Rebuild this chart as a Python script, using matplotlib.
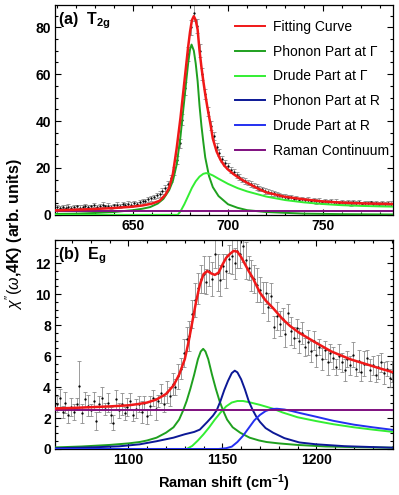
import numpy as np
import matplotlib
matplotlib.use("Agg")
import matplotlib.pyplot as plt
from matplotlib.ticker import MultipleLocator
from matplotlib.lines import Line2D

plt.rcParams["font.family"] = ["Liberation Sans", "DejaVu Sans"]
plt.rcParams["mathtext.fontset"] = "custom"
plt.rcParams["mathtext.rm"] = "Liberation Sans"
plt.rcParams["mathtext.it"] = "Liberation Sans:italic"
plt.rcParams["mathtext.bf"] = "Liberation Sans:bold"

# ---------------- (a) T2g ----------------
t2g_x = np.arange(610, 786, 1.5)
t2g_y = [3.3, 2.9, 3.5, 3.1, 3.4, 2.8, 3.2, 3.6, 3.0, 3.4,
         3.9, 3.3, 3.6, 4.2, 3.5, 3.8, 4.3, 3.6, 3.9, 3.4,
         4.0, 4.4, 3.9, 4.6, 4.2, 4.8, 4.4, 5.0, 4.7, 5.4,
         5.9, 5.8, 6.6, 7.0, 7.6, 8.3, 9.0, 10.2, 11.4, 13.2,
         15.6, 18.7, 23.5, 30.5, 40.5, 54.0, 68.5, 80.0, 86.0, 80.5,
         70.0, 60.0, 51.5, 44.0, 38.0, 33.5, 29.0, 26.5, 24.0, 22.0,
         20.8, 19.2, 18.4, 16.9, 16.2, 15.0, 14.6, 13.7, 13.2, 12.4,
         12.0, 11.2, 10.9, 10.2, 9.9, 9.3, 9.1, 8.5, 8.4, 7.9,
         7.8, 7.3, 7.4, 6.9, 7.0, 6.5, 6.7, 6.2, 6.5, 6.0,
         6.2, 5.7, 6.1, 5.6, 5.9, 5.4, 5.8, 5.3, 5.6, 5.2,
         5.6, 5.1, 5.4, 5.0, 5.5, 4.9, 5.3, 4.8, 5.2, 4.9,
         5.3, 4.7, 5.1, 4.8, 5.2, 4.6, 5.0, 4.8]
t2g_err = [0.8, 1.0, 0.7, 0.9, 1.1, 0.8, 0.9, 0.7, 1.0, 0.8,
           0.9, 1.1, 0.8, 1.0, 0.7, 0.9, 1.1, 0.8, 1.0, 0.9,
           0.8, 1.1, 0.9, 1.0, 0.8, 1.1, 0.9, 1.0, 0.8, 1.1,
           0.9, 1.1, 1.0, 1.2, 1.0, 1.1, 1.3, 1.2, 1.4, 1.3,
           1.5, 1.6, 1.8, 2.0, 2.4, 2.7, 3.0, 3.2, 3.3, 3.1,
           2.8, 2.5, 2.3, 2.0, 1.8, 1.7, 1.5, 1.4, 1.3, 1.3,
           1.2, 1.4, 1.1, 1.3, 1.2, 1.0, 1.3, 1.1, 1.2, 1.0,
           1.2, 1.1, 0.9, 1.2, 1.0, 1.1, 0.9, 1.2, 1.0, 1.1,
           0.9, 1.0, 1.2, 0.9, 1.0, 0.8, 1.1, 0.9, 1.0, 0.8,
           1.1, 0.9, 1.0, 0.8, 1.0, 0.9, 1.1, 0.8, 1.0, 0.9,
           0.8, 1.0, 0.9, 1.1, 0.8, 0.9, 1.0, 0.8, 0.9, 1.1,
           0.8, 0.9, 1.0, 0.8, 0.9, 1.0, 0.8, 0.9]

t2g_fit_x = [609, 620, 630, 640, 650, 655, 660, 664, 667, 669, 671, 673, 675, 677, 679, 680,
             681, 682, 683, 684, 685, 686, 687, 688, 689, 690, 691, 692, 694, 696, 698, 700,
             703, 706, 710, 715, 720, 730, 740, 750, 760, 770, 787]
t2g_fit_y = [1.9, 2.2, 2.5, 2.9, 3.5, 4.0, 4.8, 6.0, 8.5, 11.5, 17.5, 28.5, 41.5, 56.5, 71.5, 78.0,
             83.0, 84.7, 83.0, 79.0, 70.0, 63.0, 57.0, 51.5, 46.5, 42.0, 37.5, 32.5, 27.0, 23.5, 21.0, 19.3,
             17.3, 15.6, 13.7, 11.5, 9.6, 7.7, 6.6, 5.7, 5.2, 4.9, 4.6]

t2g_ph_x = [609, 620, 630, 640, 650, 655, 659, 663, 666, 669, 671, 673, 675, 676, 677, 678, 679, 680,
            680.8, 682, 683, 684, 685, 686, 687, 688, 690, 692, 695, 700, 705, 710, 720, 740, 760, 787]
t2g_ph_y = [0.4, 0.5, 0.8, 1.2, 2.0, 2.6, 3.3, 4.8, 6.8, 10.5, 14.5, 21.5, 33.5, 41.5, 49.0, 57.0, 64.5, 70.5,
            72.6, 70.0, 64.5, 57.0, 46.5, 38.0, 31.0, 24.5, 16.5, 11.8, 8.0, 4.5, 3.0, 2.0, 1.2, 0.5, 0.3, 0.15]

t2g_dr_x = [609, 673.5, 675, 677, 679, 681, 683, 685, 687, 688.5, 690, 692, 695, 700, 705, 710,
            720, 730, 740, 750, 760, 770, 780, 787]
t2g_dr_y = [0.0, 0.0, 1.5, 4.5, 8.0, 11.5, 14.3, 16.3, 17.5, 17.8, 17.5, 16.8, 15.4, 13.2, 11.4, 10.0,
            7.8, 6.3, 5.3, 4.6, 4.1, 3.8, 3.6, 3.5]

t2g_cont = 1.8

# ---------------- (b) Eg ----------------
eg_x = np.arange(1062, 1241, 1.5)
eg_y = [2.9, 3.3, 2.4, 3.0, 2.2, 2.7, 2.4, 2.9, 4.1, 2.3,
        3.2, 2.8, 2.5, 3.1, 1.8, 2.9, 3.3, 2.6, 3.0, 2.2,
        1.7, 3.2, 2.5, 2.9, 2.3, 2.7, 3.1, 2.2, 2.6, 2.9,
        2.4, 3.0, 2.1, 2.8, 3.3, 2.6, 3.1, 3.6, 2.9, 3.7,
        3.4, 4.2, 4.0, 4.7, 5.2, 6.2, 7.1, 7.3, 8.7, 9.6,
        10.4, 11.0, 11.3, 10.8, 11.5, 11.0, 12.6, 11.4, 10.9, 11.8,
        11.5, 12.3, 12.5, 12.0, 12.8, 12.6, 13.1, 12.2, 11.7, 11.2,
        11.0, 10.6, 10.3, 9.8, 10.1, 9.2, 9.9, 7.9, 8.6, 8.1,
        8.4, 7.4, 8.8, 7.6, 7.2, 7.8, 7.0, 7.5, 6.6, 6.9,
        6.3, 7.0, 6.1, 6.6, 5.8, 6.4, 5.6, 6.2, 5.9, 5.3,
        6.0, 5.6, 5.1, 5.8, 5.4, 6.1, 5.2, 5.7, 5.0, 5.5,
        5.9, 5.1, 5.4, 4.8, 5.3, 5.6, 4.9, 5.2, 4.6, 5.0]
eg_err = [0.5, 0.6, 0.4, 0.7, 0.5, 0.6, 0.5, 0.4, 1.6, 0.6,
          0.5, 0.7, 0.4, 0.6, 0.6, 0.5, 0.7, 0.4, 0.6, 0.5,
          0.5, 0.6, 0.5, 0.7, 0.4, 0.6, 0.5, 0.4, 0.6, 0.5,
          0.7, 0.4, 0.5, 0.6, 0.5, 0.7, 0.4, 0.6, 0.5, 0.7,
          0.6, 0.7, 0.5, 0.8, 0.7, 0.9, 0.8, 1.0, 0.9, 1.1,
          1.0, 0.9, 1.2, 0.8, 1.0, 1.1, 0.9, 1.2, 1.0, 0.8,
          1.1, 0.9, 1.2, 1.0, 1.1, 0.9, 1.0, 1.2, 0.8, 1.0,
          0.9, 1.1, 0.8, 1.0, 0.7, 0.9, 0.8, 0.7, 0.9, 0.8,
          0.7, 0.8, 0.6, 0.9, 0.7, 0.6, 0.8, 0.7, 0.6, 0.8,
          0.7, 0.6, 0.8, 0.5, 0.7, 0.6, 0.8, 0.6, 0.7, 0.5,
          0.8, 0.6, 0.7, 0.5, 0.6, 0.8, 0.5, 0.7, 0.6, 0.8,
          0.5, 0.7, 0.6, 0.5, 0.8, 0.6, 0.7, 0.5, 0.6, 0.7]

eg_fit_x = [1061, 1070, 1080, 1090, 1100, 1105, 1110, 1115, 1120, 1124, 1127, 1130, 1132, 1134, 1136,
            1138, 1140, 1142, 1144, 1146, 1148, 1150, 1152, 1154, 1156, 1158, 1160, 1162, 1164, 1166,
            1168, 1170, 1173, 1177, 1182, 1186, 1191, 1200, 1208, 1218, 1226, 1234, 1241]
eg_fit_y = [2.62, 2.65, 2.7, 2.75, 2.82, 2.9, 3.0, 3.2, 3.55, 4.1, 4.8, 5.8, 6.9, 8.2, 9.5,
            10.6, 11.3, 11.5, 11.35, 11.25, 11.4, 11.9, 12.35, 12.6, 12.8, 12.75, 12.4, 11.95, 11.5, 11.1,
            10.6, 10.1, 9.6, 9.1, 8.4, 7.95, 7.5, 6.85, 6.3, 5.8, 5.5, 5.2, 4.95]

eg_phG_x = [1061, 1075, 1090, 1100, 1106, 1110, 1115, 1120, 1124, 1127, 1129, 1131, 1133, 1135, 1137,
            1138.5, 1139.8, 1141, 1142.5, 1144.5, 1146.5, 1148.5, 1150.5, 1152.5, 1155.5, 1159.5,
            1164.5, 1169.5, 1173.5, 1180, 1190, 1205, 1220, 1241]
eg_phG_y = [0.1, 0.16, 0.26, 0.36, 0.45, 0.55, 0.73, 1.05, 1.4, 1.9, 2.45, 3.1, 3.9, 4.8, 5.8,
            6.3, 6.47, 6.3, 5.8, 4.8, 3.9, 3.1, 2.45, 1.9, 1.4, 1.05,
            0.73, 0.55, 0.45, 0.36, 0.26, 0.16, 0.12, 0.08]

eg_drG_x = [1061, 1131, 1134, 1137, 1140, 1143, 1146, 1149, 1152, 1155, 1158, 1161, 1165, 1170,
            1177, 1182, 1190, 1200, 1209, 1220, 1230, 1241]
eg_drG_y = [0.0, 0.0, 0.2, 0.55, 0.95, 1.4, 1.9, 2.35, 2.75, 3.0, 3.1, 3.1, 3.0, 2.85,
            2.6, 2.36, 2.05, 1.8, 1.6, 1.4, 1.25, 1.1]

eg_phR_x = [1061, 1080, 1095, 1106, 1115, 1124, 1130, 1135, 1138, 1142, 1145, 1147, 1149, 1151,
            1153, 1155, 1156.6, 1158, 1160, 1162, 1164, 1166, 1168, 1170, 1173, 1177, 1183, 1191,
            1200, 1215, 1241]
eg_phR_y = [0.05, 0.1, 0.17, 0.3, 0.5, 0.73, 0.95, 1.1, 1.25, 1.75, 2.15, 2.5, 3.1, 3.8,
            4.4, 4.9, 5.06, 4.95, 4.5, 3.85, 3.1, 2.55, 2.1, 1.75, 1.35, 1.05, 0.7, 0.42,
            0.3, 0.18, 0.08]

eg_drR_x = [1061, 1148, 1152, 1155, 1158, 1161, 1164, 1167, 1170, 1173, 1176, 1179, 1183, 1187,
            1191, 1200, 1209, 1220, 1230, 1241]
eg_drR_y = [0.0, 0.0, 0.05, 0.15, 0.45, 0.85, 1.35, 1.85, 2.2, 2.45, 2.58, 2.6, 2.55, 2.45,
            2.33, 2.08, 1.82, 1.57, 1.4, 1.23]

eg_cont = 2.5

legend_labels = ["Fitting Curve", "Phonon Part at \u0393", "Drude Part at \u0393",
                 "Phonon Part at R", "Drude Part at R", "Raman Continuum"]

c_fit = "#f01818"
c_phG = "#1fa01f"
c_drG = "#33ee33"
c_phR = "#0c1896"
c_drR = "#2430f0"
c_cont = "#7f0f7f"


def style_axis(ax, xmaj, xmin, ymaj, ymin):
    ax.xaxis.set_major_locator(MultipleLocator(xmaj))
    ax.xaxis.set_minor_locator(MultipleLocator(xmin))
    ax.yaxis.set_major_locator(MultipleLocator(ymaj))
    ax.yaxis.set_minor_locator(MultipleLocator(ymin))
    ax.tick_params(which="both", direction="in", top=True, right=True, width=0.8)
    ax.tick_params(which="major", length=4, labelsize=10, pad=3)
    ax.tick_params(which="minor", length=2)
    for lab in ax.get_xticklabels() + ax.get_yticklabels():
        lab.set_fontweight("bold")
    for sp in ax.spines.values():
        sp.set_linewidth(0.9)


def draw_data(ax, x, y, err):
    ax.errorbar(x, y, yerr=err, fmt=".", color="black", ms=1.3,
                ecolor="#8c8c8c", elinewidth=0.6, capsize=1.3, capthick=0.6, zorder=2)


fig = plt.figure(figsize=(3.99, 4.95), dpi=100)
ax1 = fig.add_axes([0.138, 0.566, 0.848, 0.424])
ax2 = fig.add_axes([0.138, 0.093, 0.848, 0.422])

# 上图
draw_data(ax1, t2g_x, t2g_y, t2g_err)
ax1.plot(t2g_ph_x, t2g_ph_y, color=c_phG, lw=1.4, zorder=3)
ax1.plot(t2g_dr_x, t2g_dr_y, color=c_drG, lw=1.4, zorder=3)
ax1.axhline(t2g_cont, color=c_cont, lw=1.4, zorder=3)
ax1.plot(t2g_fit_x, t2g_fit_y, color=c_fit, lw=1.8, zorder=4)
ax1.set_xlim(609, 787)
ax1.set_ylim(0, 89.5)
style_axis(ax1, 50, 10, 20, 5)
ax1.text(0.01, 0.975, r"(a)  T$_{\mathbf{2g}}$", transform=ax1.transAxes,
         fontsize=11.5, fontweight="bold", va="top", ha="left")

handles = [Line2D([], [], color=c, lw=1.4) for c in [c_fit, c_phG, c_drG, c_phR, c_drR, c_cont]]
ax1.legend(handles, legend_labels, loc="upper right", bbox_to_anchor=(1.016, 0.976),
           frameon=False, fontsize=10, handlelength=2.1, handletextpad=0.6,
           labelspacing=0.78, borderaxespad=0.3)

# 下图
draw_data(ax2, eg_x, eg_y, eg_err)
ax2.plot(eg_phG_x, eg_phG_y, color=c_phG, lw=1.4, zorder=3)
ax2.plot(eg_drG_x, eg_drG_y, color=c_drG, lw=1.4, zorder=3)
ax2.plot(eg_phR_x, eg_phR_y, color=c_phR, lw=1.4, zorder=3)
ax2.plot(eg_drR_x, eg_drR_y, color=c_drR, lw=1.4, zorder=3)
ax2.axhline(eg_cont, color=c_cont, lw=1.4, zorder=3)
ax2.plot(eg_fit_x, eg_fit_y, color=c_fit, lw=1.8, zorder=4)
ax2.set_xlim(1061, 1241)
ax2.set_ylim(0, 13.5)
style_axis(ax2, 50, 10, 2, 0.5)
ax2.text(0.01, 0.975, r"(b)  E$_{\mathbf{g}}$", transform=ax2.transAxes,
         fontsize=11.5, fontweight="bold", va="top", ha="left")
ax2.set_xlabel(r"Raman shift (cm$^{\mathbf{-1}}$)", fontsize=10.5, fontweight="bold", labelpad=4)

fig.text(0.035, 1 - 234 / 495, r"$\chi^{\prime\prime}(\omega$,4K) (arb. units)", rotation=90,
         fontsize=11.5, fontweight="bold", ha="center", va="center")

fig.savefig("out.png", dpi=100)
